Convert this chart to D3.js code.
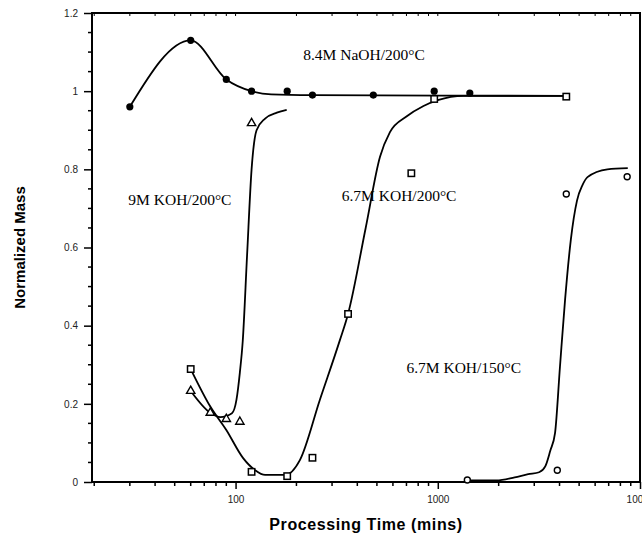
<!DOCTYPE html>
<html><head><meta charset="utf-8">
<script src="https://cdn.jsdelivr.net/npm/d3@7"></script>
<style>html,body{margin:0;padding:0;background:#fff;}</style>
</head><body>
<svg id="chart" width="642" height="533"></svg>
<script>
// ---- data (time in minutes, normalized mass) ----
const naohPoints = [[30,0.96],[60,1.13],[90,1.03],[120,1.0],[180,1.0],[240,0.99],[480,0.99],[960,1.0],[1440,0.995]];
const naohCurve  = [[30,0.96],[60,1.13],[90,1.03],[120,1.0],[150,0.992],[240,0.99],[4320,0.988]];

const koh9Points = [[60,0.233],[75,0.177],[90,0.161],[105,0.154],[120,0.918]];
const koh9Curve  = [[60,0.233],[75,0.177],[84,0.166],[96,0.176],[101,0.21],[105,0.28],[108.5,0.36],[114,0.58],[120,0.80],[127,0.90],[140,0.93],[160,0.945],[179,0.952]];

const koh200Points = [[60,0.289],[120,0.026],[180,0.015],[240,0.062],[360,0.43],[740,0.79],[960,0.98],[4320,0.986]];
const koh200Curve  = [[60,0.289],[75,0.193],[90,0.133],[109,0.061],[125,0.03],[140,0.018],[176,0.018],[208,0.056],[261,0.21],[328,0.363],[360,0.43],[440,0.65],[518,0.832],[580,0.895],[700,0.935],[850,0.962],[1000,0.977],[1340,0.988],[4320,0.988]];

const koh150Points = [[1400,0.005],[3900,0.03],[4320,0.737],[8640,0.781]];
const koh150Curve  = [[1400,0.004],[1950,0.004],[2400,0.012],[2800,0.02],[3170,0.025],[3400,0.04],[3600,0.08],[3800,0.125],[4020,0.295],[4260,0.466],[4550,0.62],[4880,0.72],[5200,0.76],[5500,0.78],[6900,0.80],[8700,0.803]];

const xMajorTicks = [100, 1000, 10000];
const xMinorTicks = [20,30,40,50,60,70,80,90,200,300,400,500,600,700,800,900,2000,3000,4000,5000,6000,7000,8000,9000];
const yMajorTicks = [0,0.2,0.4,0.6,0.8,1.0,1.2];
const yMinorTicks = [0.05,0.1,0.15,0.25,0.3,0.35,0.45,0.5,0.55,0.65,0.7,0.75,0.85,0.9,0.95,1.05,1.1,1.15];

const labels = [
  {text:"8.4M NaOH/200°C", t:216, v:1.08},
  {text:"9M KOH/200°C", t:29.5, v:0.71},
  {text:"6.7M KOH/200°C", t:335, v:0.72},
  {text:"6.7M KOH/150°C", t:700, v:0.28}
];

// ---- drawing ----
const svg = d3.select("#chart");
const L=92, R=640, T=13, B=482;
const x = d3.scaleLog().domain([19.5, 10000]).range([L, R]);
const y = d3.scaleLinear().domain([0, 1.2]).range([B, T]);

const tickFont = "'Liberation Sans', Arial, sans-serif";

// bottom axis
const gx = svg.append("g").attr("transform", `translate(0,${B})`);
gx.call(d3.axisBottom(x).tickValues(xMajorTicks).tickSize(7).tickFormat(d3.format("d")).tickSizeOuter(0));
gx.select(".domain").remove();
gx.selectAll(".tick line").attr("stroke","#000").attr("stroke-width",1.5);
gx.selectAll(".tick text").attr("font-family",tickFont).attr("font-size",10).attr("fill","#222").attr("dy","1.1em");
gx.selectAll(".minor").data(xMinorTicks).enter().append("line")
  .attr("x1",d=>x(d)).attr("x2",d=>x(d)).attr("y1",0).attr("y2",4)
  .attr("stroke","#000").attr("stroke-width",1.5);

// left axis
const gy = svg.append("g").attr("transform", `translate(${L},0)`);
gy.call(d3.axisLeft(y).tickValues(yMajorTicks).tickSize(8).tickFormat(d=>d3.format("")(+d.toFixed(1))).tickSizeOuter(0));
gy.select(".domain").remove();
gy.selectAll(".tick line").attr("stroke","#000").attr("stroke-width",1.5);
gy.selectAll(".tick text").attr("font-family",tickFont).attr("font-size",10).attr("fill","#222").attr("x",-14);
gy.selectAll(".minor").data(yMinorTicks).enter().append("line")
  .attr("x1",-4).attr("x2",0).attr("y1",d=>y(d)).attr("y2",d=>y(d))
  .attr("stroke","#000").attr("stroke-width",1.5);

// top mirrored ticks
svg.append("g").selectAll("line").data(xMajorTicks.concat(xMinorTicks)).enter().append("line")
  .attr("x1",d=>x(d)).attr("x2",d=>x(d)).attr("y1",T).attr("y2",T+3)
  .attr("stroke","#000").attr("stroke-width",1);

// frame
svg.append("rect").attr("x",L).attr("y",T).attr("width",R-L).attr("height",B-T)
  .attr("fill","none").attr("stroke","#000").attr("stroke-width",2);

// curves
const line = d3.line().x(d=>x(d[0])).y(d=>y(d[1])).curve(d3.curveMonotoneX);
[naohCurve, koh9Curve, koh200Curve, koh150Curve].forEach(c=>{
  svg.append("path").datum(c).attr("d",line).attr("fill","none")
    .attr("stroke","#000").attr("stroke-width",1.8).attr("stroke-linejoin","round");
});

// markers
svg.append("g").selectAll("circle").data(naohPoints).enter().append("circle")
  .attr("cx",d=>x(d[0])).attr("cy",d=>y(d[1])).attr("r",3.6).attr("fill","#000");
svg.append("g").selectAll("rect").data(koh200Points).enter().append("rect")
  .attr("x",d=>x(d[0])-3.2).attr("y",d=>y(d[1])-3.2).attr("width",6.4).attr("height",6.4)
  .attr("fill","#fff").attr("stroke","#000").attr("stroke-width",1.5);
const tri = d3.symbol().type(d3.symbolTriangle).size(30);
svg.append("g").selectAll("path").data(koh9Points).enter().append("path")
  .attr("d",tri).attr("transform",d=>`translate(${x(d[0])},${y(d[1])})`)
  .attr("fill","#fff").attr("stroke","#000").attr("stroke-width",1.4);
svg.append("g").selectAll("circle").data(koh150Points).enter().append("circle")
  .attr("cx",d=>x(d[0])).attr("cy",d=>y(d[1])).attr("r",3).attr("fill","#fff")
  .attr("stroke","#000").attr("stroke-width",1.4);

// series labels
svg.append("g").selectAll("text").data(labels).enter().append("text")
  .attr("x",d=>x(d.t)).attr("y",d=>y(d.v)).text(d=>d.text)
  .attr("font-family","'Liberation Serif', 'Times New Roman', serif").attr("font-size",15.5).attr("fill","#000");

// axis titles
svg.append("text").attr("x",(L+R)/2).attr("y",530).attr("text-anchor","middle")
  .attr("font-family",tickFont).attr("font-weight","bold").attr("font-size",16)
  .attr("letter-spacing",0.6).text("Processing Time (mins)");
svg.append("text").attr("transform",`translate(25,${(T+B)/2}) rotate(-90)`).attr("text-anchor","middle")
  .attr("font-family",tickFont).attr("font-weight","bold").attr("font-size",15)
  .text("Normalized Mass");
</script>
</body></html>
